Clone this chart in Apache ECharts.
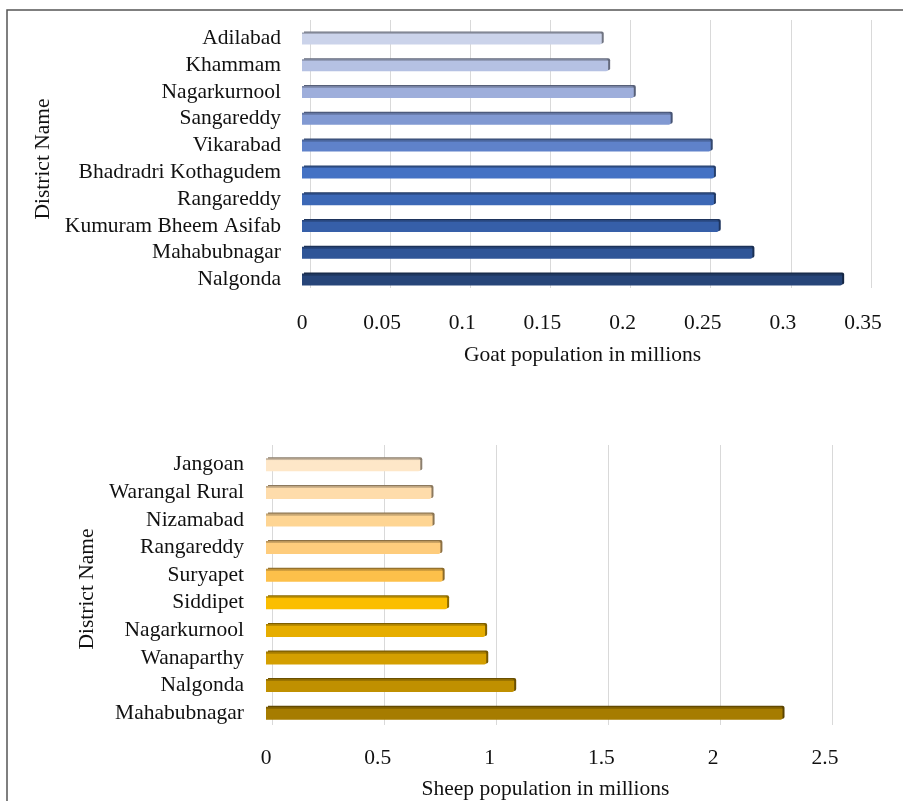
<!DOCTYPE html>
<html>
<head>
<meta charset="utf-8">
<title>Goat and sheep population</title>
<script src="https://cdn.jsdelivr.net/npm/echarts@6/dist/echarts.min.js"></script>
<style>
  html, body { margin: 0; padding: 0; background: #fff; }
  #chart { width: 903px; height: 801px; }
</style>
</head>
<body>
<div id="chart"></div>
<script>
// top chart - goats
const goatDistricts = ['Adilabad', 'Khammam', 'Nagarkurnool', 'Sangareddy', 'Vikarabad',
  'Bhadradri Kothagudem', 'Rangareddy', 'Kumuram Bheem Asifab', 'Mahabubnagar', 'Nalgonda']
const goatValues = [0.187, 0.191, 0.207, 0.230, 0.255, 0.257, 0.257, 0.260, 0.281, 0.337]
const goatTicks = [0, 0.05, 0.1, 0.15, 0.2, 0.25, 0.3, 0.35]

// bottom chart - sheep
const sheepDistricts = ['Jangoan', 'Warangal Rural', 'Nizamabad', 'Rangareddy', 'Suryapet',
  'Siddipet', 'Nagarkurnool', 'Wanaparthy', 'Nalgonda', 'Mahabubnagar']
const sheepValues = [0.69, 0.74, 0.745, 0.78, 0.79, 0.81, 0.98, 0.985, 1.11, 2.31]
const sheepTicks = [0, 0.5, 1, 1.5, 2, 2.5]

const goatColors = ['#cbd3ea', '#b5c1e3', '#9eaedb', '#8199d2', '#5f82ca',
  '#4472c4', '#3c68b6', '#365fa9', '#2f5597', '#274579']
const sheepColors = ['#fee7c8', '#fedcab', '#fed593', '#fecc7c', '#fdc04a',
  '#fbbe00', '#e6ad00', '#d49f00', '#c09000', '#a67c00']

const font = 'Liberation Serif'

function darken(hex, k) {
  const n = parseInt(hex.slice(1), 16)
  const r = Math.round(((n >> 16) & 255) * k)
  const g = Math.round(((n >> 8) & 255) * k)
  const b = Math.round((n & 255) * k)
  return 'rgb(' + r + ',' + g + ',' + b + ')'
}

// fake the excel 3d look: a darker strip on top and a dark end cap
function barItems(values, colors) {
  return values.map((v, i) => ({
    value: v,
    itemStyle: {
      color: {
        type: 'linear', x: 0, y: 0, x2: 0, y2: 1,
        colorStops: [
          { offset: 0, color: darken(colors[i], 0.72) },
          { offset: 0.16, color: darken(colors[i], 0.85) },
          { offset: 0.17, color: colors[i] },
          { offset: 1, color: colors[i] }
        ]
      },
      shadowColor: darken(colors[i], 0.55),
      shadowOffsetX: 2,
      shadowOffsetY: -1,
      shadowBlur: 0,
      borderRadius: [0, 2, 2, 0]
    }
  }))
}

const txt = { fontFamily: font, fontSize: 21.5, color: '#111' }

const myChart = echarts.init(document.getElementById('chart'))
myChart.setOption({
  animation: false,
  graphic: [{
    type: 'polyline',
    shape: { points: [[7, 801], [7, 10], [903, 10]] },
    style: { stroke: '#555', lineWidth: 1.5, fill: null }
  }],
  grid: [
    // back walls (gridlines only)
    { left: 310, top: 20, width: 561, height: 268 },
    { left: 272, top: 445, width: 560, height: 280 },
    // front (bars + labels)
    { left: 302, top: 25, width: 561, height: 268 },
    { left: 266, top: 451, width: 559, height: 278 }
  ],
  xAxis: [
    {
      gridIndex: 0, type: 'value', min: 0, max: goatTicks[goatTicks.length - 1], interval: 0.05,
      axisLine: { show: false }, axisTick: { show: false }, axisLabel: { show: false },
      splitLine: { show: true, lineStyle: { color: '#d9d9d9', width: 1 } }
    },
    {
      gridIndex: 1, type: 'value', min: 0, max: sheepTicks[sheepTicks.length - 1], interval: 0.5,
      axisLine: { show: false }, axisTick: { show: false }, axisLabel: { show: false },
      splitLine: { show: true, lineStyle: { color: '#d9d9d9', width: 1 } }
    },
    {
      gridIndex: 2, type: 'value', min: 0, max: goatTicks[goatTicks.length - 1], interval: 0.05,
      axisLine: { show: false }, axisTick: { show: false }, splitLine: { show: false },
      axisLabel: Object.assign({ margin: 19, formatter: v => String(+v.toFixed(2)) }, txt),
      name: 'Goat population in millions', nameLocation: 'middle', nameGap: 51,
      nameTextStyle: txt
    },
    {
      gridIndex: 3, type: 'value', min: 0, max: sheepTicks[sheepTicks.length - 1], interval: 0.5,
      axisLine: { show: false }, axisTick: { show: false }, splitLine: { show: false },
      axisLabel: Object.assign({ margin: 20, formatter: v => String(+v.toFixed(1)) }, txt),
      name: 'Sheep population in millions', nameLocation: 'middle', nameGap: 51,
      nameTextStyle: txt
    }
  ],
  yAxis: [
    { gridIndex: 0, type: 'category', data: goatDistricts, show: false },
    { gridIndex: 1, type: 'category', data: sheepDistricts, show: false },
    {
      gridIndex: 2, type: 'category', data: goatDistricts, inverse: true,
      axisLine: { show: false }, axisTick: { show: false },
      axisLabel: Object.assign({ margin: 21, interval: 0 }, txt),
      name: 'District Name', nameLocation: 'middle', nameRotate: 90, nameGap: 248,
      nameTextStyle: txt
    },
    {
      gridIndex: 3, type: 'category', data: sheepDistricts, inverse: true,
      axisLine: { show: false }, axisTick: { show: false },
      axisLabel: Object.assign({ margin: 22, interval: 0 }, txt),
      name: 'District Name', nameLocation: 'middle', nameRotate: 90, nameGap: 167,
      nameTextStyle: txt
    }
  ],
  series: [
    {
      type: 'bar', xAxisIndex: 2, yAxisIndex: 2, barWidth: 12,
      data: barItems(goatValues, goatColors)
    },
    {
      type: 'bar', xAxisIndex: 3, yAxisIndex: 3, barWidth: 13,
      data: barItems(sheepValues, sheepColors)
    }
  ]
})
</script>
</body>
</html>
